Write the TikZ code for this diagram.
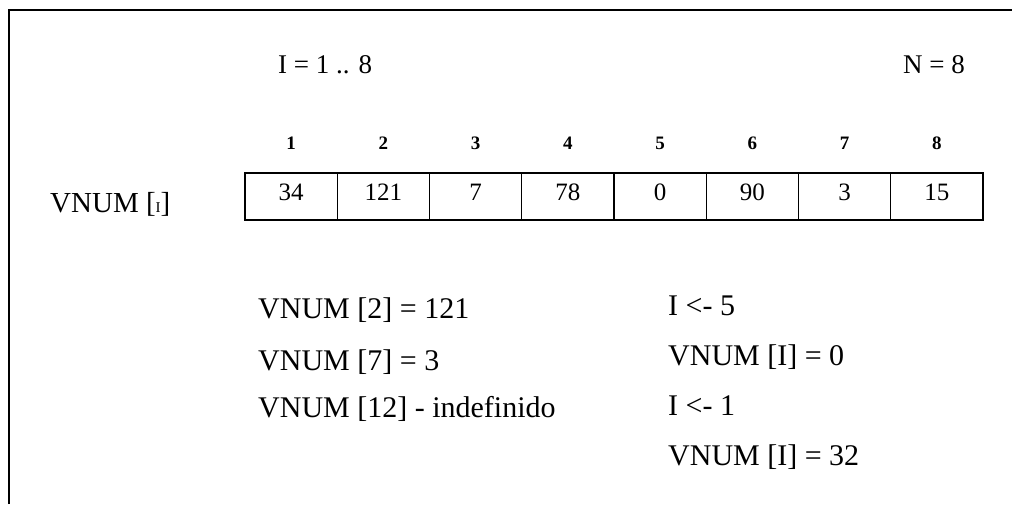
\documentclass[tikz,border=0pt]{standalone}
\usepackage{fontspec}
\setmainfont{Liberation Serif}
\begin{document}
\begin{tikzpicture}[x=1pt,y=-1pt,
	cell/.style={draw,line width=1.1pt,minimum width=92.25pt,minimum height=47pt,inner sep=0pt,
		text height=17pt,text depth=10pt,font=\fontsize{25}{28}\selectfont},
	idx/.style={anchor=base,inner sep=0pt,font=\fontsize{19}{22}\selectfont\bfseries},
	txt/.style={anchor=base west,inner sep=0pt,font=\fontsize{30}{34}\selectfont}]
	\useasboundingbox (0,0) rectangle (1012,504);

	% frame, open at the bottom and right
	\coordinate (fbl) at (9,504);
	\coordinate (ftl) at (9,10);
	\coordinate (ftr) at (1012,10);
	\draw[line width=1.8pt] (fbl) -- (ftl) -- (ftr);

	\node[txt,font=\fontsize{27}{30}\selectfont] (range) at (278,73) {I = 1 .. 8};
	\node[txt,font=\fontsize{27}{30}\selectfont] (size) at (903,73) {N = 8};

	% the vector and its positions
	\node[txt,font=\fontsize{29}{32}\selectfont] (vname) at (50,212) {VNUM [{\fontsize{15}{18}\selectfont I}]};
	\foreach \v [count=\i] in {34,121,7,78,0,90,3,15} {
		\node[cell] (c\i) at ({245+92.25*(\i-0.5)},196.5) {\v};
		\node[idx] (n\i) at ([yshift=23pt]c\i.north) {\i};
	}

	% accesses
	\node[txt] (ex1) at (258,318) {VNUM [2] = 121};
	\node[txt] (ex2) at (258,370) {VNUM [7] = 3};
	\node[txt] (ex3) at (258,417) {VNUM [12] - indefinido};

	\node[txt] (as1) at (668,315) {I <- 5};
	\node[txt] (as2) at (668,365) {VNUM [I] = 0};
	\node[txt] (as3) at (668,415) {I <- 1};
	\node[txt] (as4) at (668,465) {VNUM [I] = 32};
\end{tikzpicture}
\end{document}
